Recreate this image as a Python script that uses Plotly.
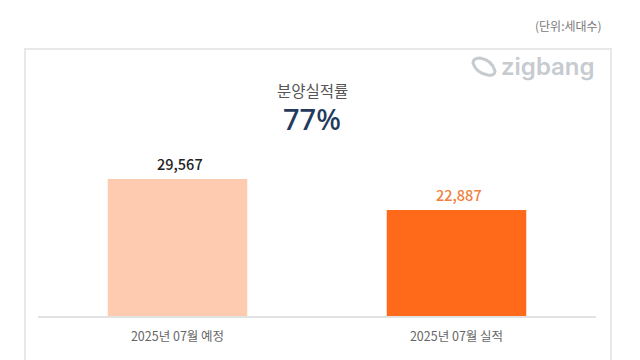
import plotly.graph_objects as go

categories = ["2025년 07월 예정", "2025년 07월 실적"]
values = [29567, 22887]
value_labels = ["29,567", "22,887"]
bar_colors = ["#FFCBB0", "#FF6A1A"]
label_colors = ["#222222", "#F0803C"]
title_text = "분양실적률"
rate_text = "77%"
unit_text = "(단위:세대수)"
logo_text = "zigbang"

W, H = 640, 360
FONT = "Noto Sans CJK KR"


def px(x):
    return x / W


def py(y):
    return 1 - y / H


fig = go.Figure(
    go.Bar(
        x=categories,
        y=values,
        width=0.5,
        marker=dict(color=bar_colors, line=dict(width=0)),
        hoverinfo="skip",
    )
)

for cat, val, lab, col in zip(categories, values, value_labels, label_colors):
    fig.add_annotation(
        x=cat, y=val, text=lab, showarrow=False, xshift=2.5, yshift=3,
        yanchor="bottom",
        font=dict(family=FONT, size=14.5, color=col, weight=500),
    )


def note(x, y, text, size, color, anchor="center", weight=None, family=FONT):
    fig.add_annotation(
        x=px(x), y=py(y), xref="paper", yref="paper", text=text, showarrow=False,
        xanchor=anchor, yanchor="middle",
        font=dict(family=family, size=size, color=color, weight=weight),
    )


note(604, 26, unit_text, 12, "#7A7A7A", anchor="right")
note(312, 90, title_text, 15.5, "#555555")
note(312, 119, rate_text, 29, "#233A5E", weight=500, family="Noto Sans")
note(597, 66, logo_text, 24, "#C6CBD0", anchor="right", weight=600, family="Inter")

# card border
fig.add_shape(type="rect", xref="paper", yref="paper", x0=px(25), x1=px(611), y0=py(49), y1=py(372),
              line=dict(color="#E8E8E8", width=2), fillcolor="rgba(0,0,0,0)", layer="below")
# logo icon
pts = "M {} {} Q {} {} {} {} Q {} {} {} {} Q {} {} {} {} Q {} {} {} {} Z".format(
    px(473), py(63),
    px(473), py(58), px(480), py(58),
    px(492), py(60), px(495), py(71),
    px(495), py(76), px(488), py(75),
    px(476), py(73), px(473), py(63))
fig.add_shape(type="path", xref="paper", yref="paper", path=pts,
              line=dict(color="#C6CBD0", width=3), fillcolor="rgba(0,0,0,0)")

fig.update_layout(
    width=W, height=H,
    margin=dict(l=0, r=0, t=0, b=0),
    paper_bgcolor="white", plot_bgcolor="white",
    showlegend=False,
    xaxis=dict(domain=[px(38), px(596)], type="category", showgrid=False, ticks="",
               showline=True, linecolor="#E2E2E2", linewidth=2, anchor="y",
               tickfont=dict(family=FONT, size=12.5, color="#666666"), ticklabelstandoff=8),
    yaxis=dict(domain=[py(316), py(49)], range=[0, 57624], visible=False, fixedrange=True),
)

fig.write_html("out.html", config={"displayModeBar": False},
               post_script="document.body.style.margin='0';")
